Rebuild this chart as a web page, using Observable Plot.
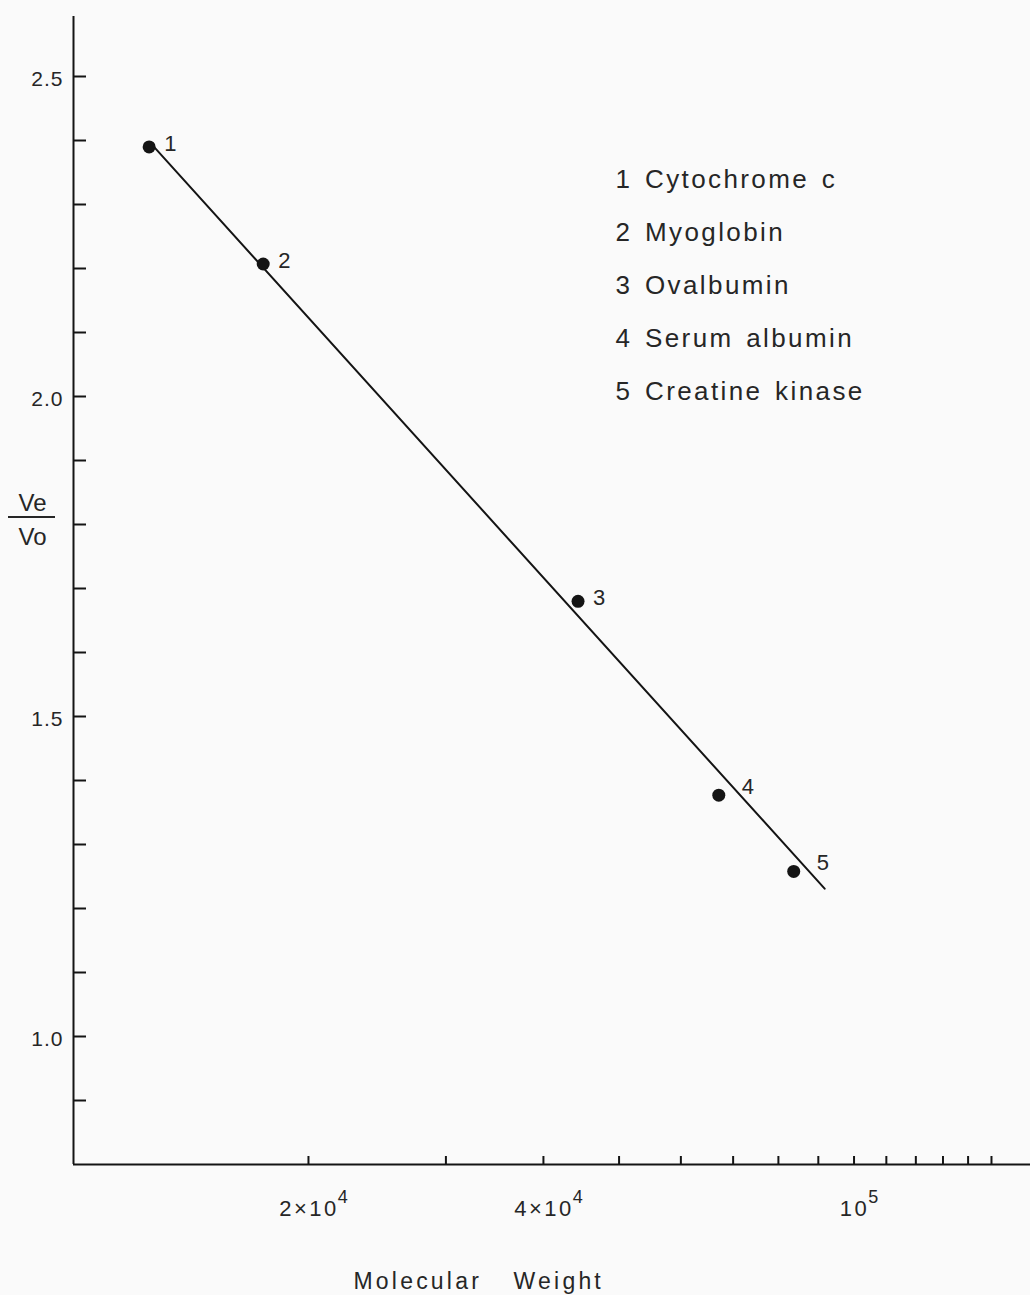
<!DOCTYPE html>
<html>
<head>
<meta charset="utf-8">
<script src="https://cdn.jsdelivr.net/npm/d3@7"></script>
<script src="https://cdn.jsdelivr.net/npm/@observablehq/plot@0.6"></script>
<style>
  html, body { margin: 0; padding: 0; background: #fafafa; }
  #chart svg { display: block; }
</style>
</head>
<body>
<div id="chart"></div>
<script>
// ---- data ----
const proteinIds = [1, 2, 3, 4, 5];
const proteinNames = ["Cytochrome c", "Myoglobin", "Ovalbumin", "Serum albumin", "Creatine kinase"];
const molecularWeights = [12500, 17500, 44300, 67100, 83700];
const veVoRatios = [2.390, 2.207, 1.680, 1.377, 1.258];

// calibration line (drawn through the points, extending past #5)
const fitLineWeights = [12570, 91700];
const fitLineRatios = [2.395, 1.231];

// axes
const xDomain = [10000, 168300];
const yDomain = [0.8, 2.59375];
const xMinorTicks = [20000, 30000, 40000, 50000, 60000, 70000, 80000, 90000, 100000, 110000, 120000, 130000, 140000, 150000];
const xLabelTicks = [20000, 40000, 100000];
const xLabelTexts = ["2×10^4", "4×10^4", "10^5"];
const yMinorTicks = [0.9, 1.0, 1.1, 1.2, 1.3, 1.4, 1.5, 1.6, 1.7, 1.8, 1.9, 2.0, 2.1, 2.2, 2.3, 2.4, 2.5];
const yLabelTicks = [1.0, 1.5, 2.0, 2.5];
const xTitle = "Molecular Weight";
const yTitleTop = "Ve";
const yTitleBottom = "Vo";

// ---- build ----
const points = proteinIds.map((id, i) => ({id, name: proteinNames[i], mw: molecularWeights[i], ratio: veVoRatios[i]}));
const fitLine = fitLineWeights.map((mw, i) => ({mw, ratio: fitLineRatios[i]}));
const legendText = proteinIds.map((id, i) => `${id} ${proteinNames[i]}`).join("\n");

const W = 1030, H = 1295;
const mL = 73, mR = 0, mT = 16, mB = 131;
const plotW = W - mL - mR, plotH = H - mT - mB;
const ink = "#141414";
const textInk = "#262626";
const font = "'Liberation Sans', Arial, Helvetica, sans-serif";

const chart = Plot.plot({
  width: W,
  height: H,
  marginLeft: mL,
  marginRight: mR,
  marginTop: mT,
  marginBottom: mB,
  style: {background: "#fafafa", fontFamily: font, color: textInk},
  x: {type: "log", domain: xDomain, label: null},
  y: {type: "linear", domain: yDomain, label: null},
  marks: [
    // axis lines
    Plot.ruleX([xDomain[0]], {stroke: ink, strokeWidth: 2}),
    Plot.ruleY([yDomain[0]], {stroke: ink, strokeWidth: 2}),
    // inward ticks
    Plot.ruleY(yMinorTicks, {stroke: ink, strokeWidth: 2, insetRight: plotW - 13}),
    Plot.ruleX(xMinorTicks, {stroke: ink, strokeWidth: 2, insetTop: plotH - 8}),
    // tick labels
    Plot.axisY(yLabelTicks, {tickSize: 0, tickPadding: 10, tickFormat: d3.format(".1f"), fontSize: 21, fill: textInk, dy: 3}),
    Plot.axisX(xLabelTicks, {tickSize: 0, tickPadding: 36, tickFormat: (d) => xLabelTexts[xLabelTicks.indexOf(d)], fontSize: 22, fill: textInk}),
    // calibration line and points
    Plot.line(fitLine, {x: "mw", y: "ratio", stroke: ink, strokeWidth: 2}),
    Plot.dot(points, {x: "mw", y: "ratio", r: 6.5, fill: ink, stroke: null}),
    Plot.text(points, {filter: (d) => d.id <= 3, x: "mw", y: "ratio", text: (d) => String(d.id), dx: 15, dy: 4, textAnchor: "start", lineAnchor: "bottom", fontSize: 22, fill: textInk}),
    Plot.text(points, {filter: (d) => d.id >= 4, x: "mw", y: "ratio", text: (d) => String(d.id), dx: 23, dy: -1, textAnchor: "start", lineAnchor: "bottom", fontSize: 22, fill: textInk}),
    // legend
    Plot.text([legendText], {text: (d) => d, frameAnchor: "top-left", dx: 542, dy: 134, textAnchor: "start", lineAnchor: "top", lineHeight: 2.04, fontSize: 26, fill: textInk}),
    // axis titles
    Plot.text([xTitle], {text: (d) => d, frameAnchor: "bottom-left", dx: 280, dy: 124, textAnchor: "start", lineAnchor: "bottom", fontSize: 23, fill: textInk}),
    Plot.text([yTitleTop], {text: (d) => d, frameAnchor: "top-left", dx: -41, dy: 494, textAnchor: "middle", lineAnchor: "bottom", fontSize: 24, fill: textInk}),
    Plot.text([yTitleBottom], {text: (d) => d, frameAnchor: "top-left", dx: -41, dy: 528, textAnchor: "middle", lineAnchor: "bottom", fontSize: 24, fill: textInk})
  ]
});

document.getElementById("chart").append(chart);

// typographic spacing like the original lettering
d3.select(chart).selectAll("text").each(function () {
  const s = this.textContent;
  if (s.startsWith("1 Cytochrome")) {
    this.style.letterSpacing = "2.4px";
    this.style.wordSpacing = "3px";
  } else if (s === xTitle) {
    this.style.letterSpacing = "3.2px";
    this.style.wordSpacing = "22px";
  } else if (yLabelTicks.map(d3.format(".1f")).includes(s)) {
    this.style.letterSpacing = "1px";
  }
});

// superscript exponents on the x tick labels, keeping the mantissa centred on the tick
d3.select(chart).selectAll('g[aria-label="x-axis tick label"] text').each(function () {
  const t = d3.select(this);
  const parts = this.textContent.split("^");
  t.text(null);
  t.style("letter-spacing", "2.5px");
  t.append("tspan").text(parts[0]);
  const sup = t.append("tspan").attr("dy", -13).attr("dx", -1).attr("font-size", 18).style("letter-spacing", "0px").text(parts[1]);
  const w = sup.node().getComputedTextLength();
  t.attr("x", w / 2);
});

// fraction bar of the y title
d3.select(chart).append("line")
  .attr("x1", 8).attr("x2", 55).attr("y1", 517).attr("y2", 517)
  .attr("stroke", textInk).attr("stroke-width", 2);
</script>
</body>
</html>
